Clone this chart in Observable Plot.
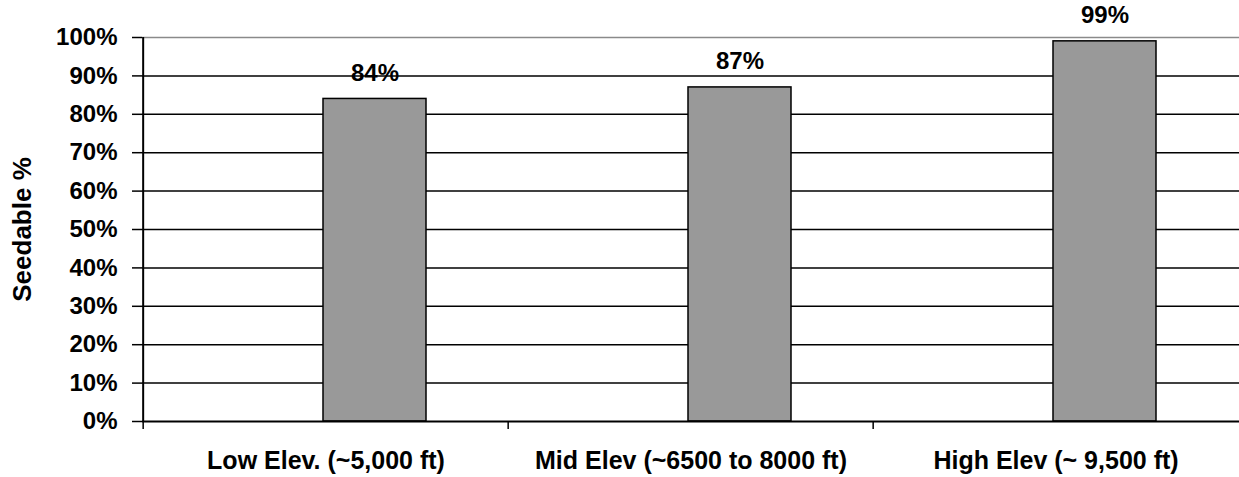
<!DOCTYPE html>
<html>
<head>
<meta charset="utf-8">
<script src="https://cdn.jsdelivr.net/npm/d3@7"></script>
<script src="https://cdn.jsdelivr.net/npm/@observablehq/plot@0.6"></script>
<style>
  body { margin: 0; background: #fff; }
</style>
</head>
<body>
<div id="chart"></div>
<script>
const categories = ["Low Elev. (~5,000 ft)", "Mid Elev (~6500 to 8000 ft)", "High Elev (~ 9,500 ft)"];
const seedable = [84, 87, 99];
const valueLabels = ["84%", "87%", "99%"];
const yTicks = [0, 10, 20, 30, 40, 50, 60, 70, 80, 90, 100];
const yLabel = "Seedable %";

const data = categories.map((c, i) => ({category: c, value: seedable[i], label: valueLabels[i]}));

const W = 1239, H = 477, mL = 142, mR = 0, mT = 37, mB = 56;
const step = (W - mL - mR) / categories.length;
const barShift = 49;

const chart = Plot.plot({
  width: W,
  height: H,
  marginLeft: mL,
  marginRight: mR,
  marginTop: mT,
  marginBottom: mB,
  style: {
    fontFamily: "'Liberation Sans', Arial, sans-serif",
    fontSize: "24px",
    fontWeight: "bold",
    color: "black",
    background: "white"
  },
  x: {domain: categories, paddingInner: 0.718, paddingOuter: 0.359, align: 0.5, label: null},
  y: {domain: [0, 100], label: null},
  marks: [
    Plot.gridY(yTicks.filter(t => t > 0 && t < 100), {stroke: "black", strokeOpacity: 1, strokeWidth: 1.5}),
    Plot.gridY([100], {stroke: "#8a8a8a", strokeOpacity: 1, strokeWidth: 1.5}),
    Plot.barY(data, {x: "category", y: "value", fill: "#999999", stroke: "black", strokeWidth: 1.5, dx: barShift}),
    Plot.text(data, {x: "category", y: "value", text: "label", dx: barShift, dy: -18, lineAnchor: "bottom"}),
    Plot.ruleY([0], {stroke: "black", strokeWidth: 2}),
    Plot.ruleX([categories[0]], {stroke: "black", strokeWidth: 2, dx: -step / 2}),
    Plot.ruleX(categories, {y1: 0, y2: 0, insetBottom: -8, stroke: "black", strokeWidth: 1.5, dx: -step / 2}),
    Plot.axisY(yTicks, {tickSize: 10, tickPadding: 15, tickFormat: d => d + "%", label: null, strokeWidth: 1.5}),
    Plot.axisX({tickSize: 0, tickPadding: 30, label: null, fontSize: 25}),
    Plot.text([yLabel], {frameAnchor: "left", text: d => d, rotate: -90, textAnchor: "middle", dx: -120, fontSize: 26})
  ]
});

document.getElementById("chart").appendChild(chart);
</script>
</body>
</html>
